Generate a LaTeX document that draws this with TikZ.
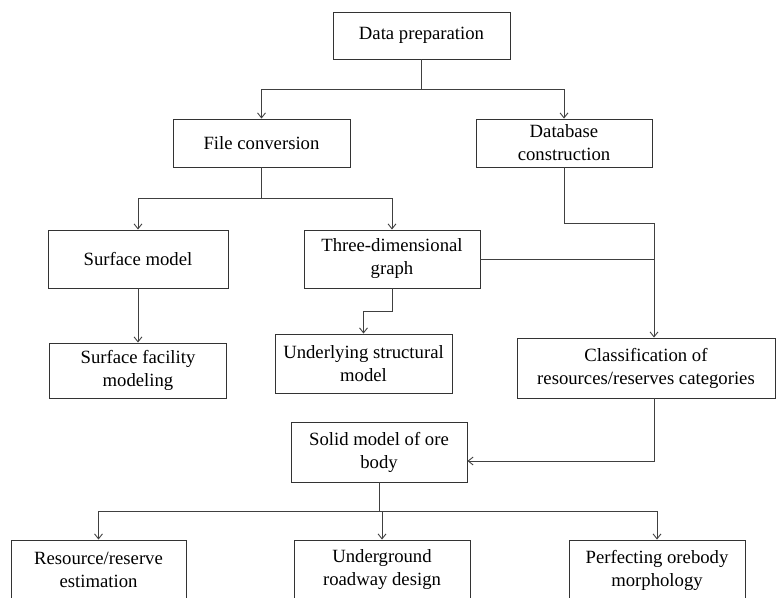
\documentclass[tikz,border=0pt]{standalone}
\usepackage{fontspec}
\setmainfont{Liberation Serif}
\usetikzlibrary{arrows.meta}

\begin{document}
\begin{tikzpicture}[
    x=1pt, y=-1pt,
    box/.style={rectangle, draw=black!80, line width=0.9pt, inner sep=2pt, align=center,
      minimum width=176pt, minimum height=58pt, font=\fontsize{18.7}{23}\selectfont},
    line/.style={draw=black!75, line width=0.9pt},
    arrow/.style={line, -{Straight Barb[length=5pt,width=8pt]}}
]
\useasboundingbox (0,0) rectangle (781,597);
\clip (0,0) rectangle (781,597);

\node[box, minimum height=47pt, minimum width=177pt] (prep) at (421.5,35.5) {Data preparation};
\node[box, minimum height=48pt, minimum width=177pt] (conv) at (261.5,143) {File conversion};
\node[box, minimum height=48pt] (dbase) at (564,143) {Database\\construction};

\node[box, minimum width=180pt] (surf) at (138,259) {Surface model};
\node[box] (graph) at (392,259) {Three-dimensional\\graph};

\node[box, minimum height=55pt, minimum width=177pt] (facil) at (138,370.5) {Surface facility\\modeling};
\node[box, minimum height=59pt, minimum width=177pt] (under) at (363.5,363.5) {Underlying structural\\model};
\node[box, minimum height=60pt, minimum width=258pt] (classif) at (646,368) {Classification of\\resources/reserves categories};

\node[box, minimum height=60pt] (solid) at (379,452) {Solid model of ore\\body};

\node[box, minimum height=60pt, minimum width=175pt] (resv) at (98.5,570) {Resource/reserve\\estimation};
\node[box, minimum height=60pt] (road) at (382,570) {Underground\\roadway design};
\node[box, minimum height=60pt] (morph) at (657,570) {Perfecting orebody\\morphology};

% junctions
\coordinate (j1) at (421.5,89);
\coordinate (j2) at (261.5,198);
\coordinate (j3) at (654,223);
\coordinate (j4) at (392,311);
\coordinate (j5) at (379,511);
\coordinate (j6) at (654,461);

% data preparation
\draw[line] (prep) -- (j1);
\draw[arrow] (j1) -| (conv);
\draw[arrow] (j1) -| (dbase);

% file conversion
\draw[line] (conv) -- (j2);
\draw[arrow] (j2) -| (surf);
\draw[arrow] (j2) -| (graph);
\draw[arrow] (surf) -- (facil);
\draw[arrow] (graph) -- (j4) -| (under);

% database and graph to classification
\draw[arrow] (dbase.south) |- (j3) -- (j3 |- classif.north);
\draw[line] (graph.east) -- (graph.east -| j3);

% classification to solid model
\draw[arrow] (j3 |- classif.south) -- (j6) -- (j6 -| solid.east);

% solid model
\draw[line] (solid) -- (j5);
\draw[arrow] (j5) -| (resv);
\draw[arrow] (j5) -| (road);
\draw[arrow] (j5) -| (morph);

\end{tikzpicture}
\end{document}
